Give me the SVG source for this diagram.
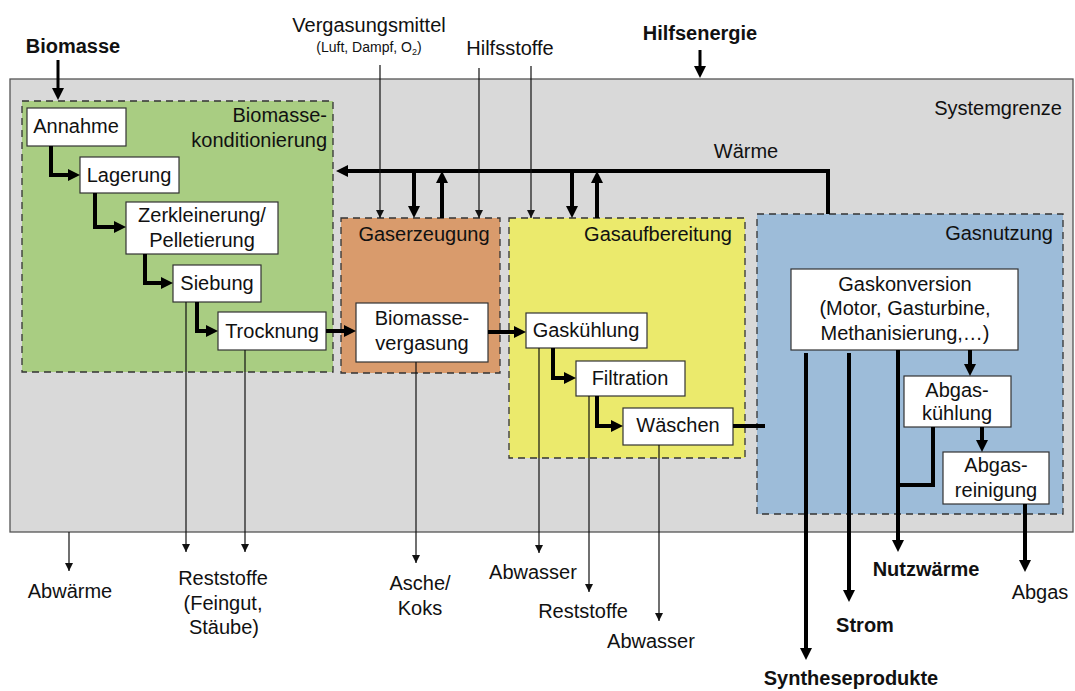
<svg xmlns="http://www.w3.org/2000/svg" width="1075" height="691" viewBox="0 0 1075 691">
<style>
text{font-family:"Liberation Sans",Arial,sans-serif;font-size:20px;fill:#111}
.b{font-weight:bold}
.s{font-size:14px}
.m{text-anchor:middle}
.e{text-anchor:end}
.box{fill:#fff;stroke:#333;stroke-width:1.2}
.grp{stroke:#333;stroke-width:1.3;stroke-dasharray:7 5}
.thick{fill:none;stroke:#000;stroke-width:4}
.thin{fill:none;stroke:#111;stroke-width:1.2}
</style>
<defs>
<marker id="ah" viewBox="0 0 12 12" markerWidth="12" markerHeight="12" refX="8" refY="6" orient="auto" markerUnits="userSpaceOnUse"><path d="M0,0 L12,6 L0,12 z" fill="#000"/></marker>
<marker id="at" viewBox="0 0 8 8" markerWidth="8" markerHeight="8" refX="8" refY="4" orient="auto" markerUnits="userSpaceOnUse"><path d="M0,0 L8,4 L0,8 z" fill="#111"/></marker>
</defs>
<rect width="1075" height="691" fill="#fff"/>
<g id="systemgrenze">
<rect x="10" y="79" width="1063" height="453" fill="#d9d9d9" stroke="#555" stroke-width="1.3"/>
<text x="1062" y="115" class="e">Systemgrenze</text>
</g>
<g id="biomassekonditionierung">
<rect x="22" y="101" width="311" height="271" fill="#a9cd82" class="grp"/>
<text x="327" y="122" class="e">Biomasse-</text>
<text x="327" y="147" class="e">konditionierung</text>
</g>
<g id="gaserzeugung">
<rect x="341" y="218" width="159" height="155" fill="#d99b6c" class="grp"/>
<text x="424" y="241" class="m">Gaserzeugung</text>
</g>
<g id="gasaufbereitung">
<rect x="509" y="218" width="236" height="240" fill="#ebea6c" class="grp"/>
<text x="732" y="241" class="e">Gasaufbereitung</text>
</g>
<g id="gasnutzung">
<rect x="757" y="214" width="306" height="300" fill="#9dbcd9" class="grp"/>
<text x="1053" y="240" class="e">Gasnutzung</text>
</g>
<g id="annahme"><rect x="27" y="108" width="99" height="38" class="box"/><text x="76" y="133" class="m">Annahme</text></g>
<g id="lagerung"><rect x="80" y="157" width="99" height="36" class="box"/><text x="129" y="182" class="m">Lagerung</text></g>
<g id="zerkleinerung"><rect x="126" y="202" width="152" height="52" class="box"/><text x="202" y="222" class="m">Zerkleinerung/</text><text x="202" y="247" class="m">Pelletierung</text></g>
<g id="siebung"><rect x="173" y="265" width="88" height="37" class="box"/><text x="217" y="290" class="m">Siebung</text></g>
<g id="trocknung"><rect x="218" y="312" width="108" height="38" class="box"/><text x="272" y="338" class="m">Trocknung</text></g>
<g id="vergasung"><rect x="356" y="303" width="132" height="59" class="box"/><text x="422" y="325" class="m">Biomasse-</text><text x="422" y="350" class="m">vergasung</text></g>
<g id="gaskuehlung"><rect x="526" y="313" width="121" height="35" class="box"/><text x="586" y="337" class="m">Gaskühlung</text></g>
<g id="filtration"><rect x="576" y="361" width="109" height="35" class="box"/><text x="630" y="385" class="m">Filtration</text></g>
<g id="waeschen"><rect x="623" y="408" width="110" height="37" class="box"/><text x="678" y="432" class="m">Wäschen</text></g>
<g id="gaskonversion"><rect x="791" y="269" width="227" height="81" class="box"/><text x="905" y="291" class="m">Gaskonversion</text><text x="905" y="315" class="m">(Motor, Gasturbine,</text><text x="905" y="340" class="m">Methanisierung,…)</text></g>
<g id="abgaskuehlung"><rect x="904" y="376" width="107" height="51" class="box"/><text x="957" y="397" class="m">Abgas-</text><text x="957" y="420" class="m">kühlung</text></g>
<g id="abgasreinigung"><rect x="943" y="452" width="106" height="52" class="box"/><text x="996" y="472" class="m">Abgas-</text><text x="996" y="497" class="m">reinigung</text></g>
<g id="labels">
<text x="73" y="53" class="m b">Biomasse</text>
<text x="369" y="32" class="m">Vergasungsmittel</text>
<text x="369" y="52" class="m s">(Luft, Dampf, O<tspan font-size="9" dy="3">2</tspan><tspan dy="-3">)</tspan></text>
<text x="510" y="55" class="m">Hilfsstoffe</text>
<text x="700" y="40" class="m b">Hilfsenergie</text>
<text x="746" y="158" class="m">Wärme</text>
<text x="70" y="598" class="m">Abwärme</text>
<text x="223" y="585" class="m">Reststoffe</text>
<text x="223" y="610" class="m">(Feingut,</text>
<text x="224" y="634" class="m">Stäube)</text>
<text x="420" y="590" class="m">Asche/</text>
<text x="420" y="615" class="m">Koks</text>
<text x="533" y="579" class="m">Abwasser</text>
<text x="583" y="618" class="m">Reststoffe</text>
<text x="651" y="648" class="m">Abwasser</text>
<text x="926" y="576" class="m b">Nutzwärme</text>
<text x="1040" y="599" class="m">Abgas</text>
<text x="865" y="632" class="m b">Strom</text>
<text x="851" y="685" class="m b">Syntheseprodukte</text>
</g>
<g id="connectors">
<g class="thick" marker-end="url(#ah)">
<path d="M51,146 V175 H76"/>
<path d="M95,193 V227 H122"/>
<path d="M145,254 V283 H169"/>
<path d="M197,302 V331 H214"/>
<path d="M326,331 H352"/>
<path d="M488,332 H522"/>
<path d="M553,348 V378 H572"/>
<path d="M597,396 V426 H619"/>
<path d="M828,214 V171 H340"/>
<path d="M414,171 V214"/>
<path d="M442,218 V175"/>
<path d="M572,171 V214"/>
<path d="M597,218 V175"/>
<path d="M970,350 V372"/>
<path d="M982,427 V448"/>
<path d="M898,350 V548"/>
<path d="M849,353 V598"/>
<path d="M806,353 V656"/>
<path d="M1025,504 V568"/>
<path d="M58,60 V96" stroke-width="3"/>
<path d="M700,50 V74" stroke-width="3"/>
</g>
<path class="thick" d="M733,426 H765"/>
<path class="thick" d="M933,427 V485 H898"/>
<g class="thin" marker-end="url(#at)">
<path d="M380,65 V218"/>
<path d="M479,68 V218"/>
<path d="M531,66 V218"/>
<path d="M69,532 V571"/>
<path d="M186,302 V552"/>
<path d="M245,350 V552"/>
<path d="M416,362 V563"/>
<path d="M539,348 V553"/>
<path d="M589,396 V592"/>
<path d="M659,445 V621"/>
</g>
</g>
</svg>
